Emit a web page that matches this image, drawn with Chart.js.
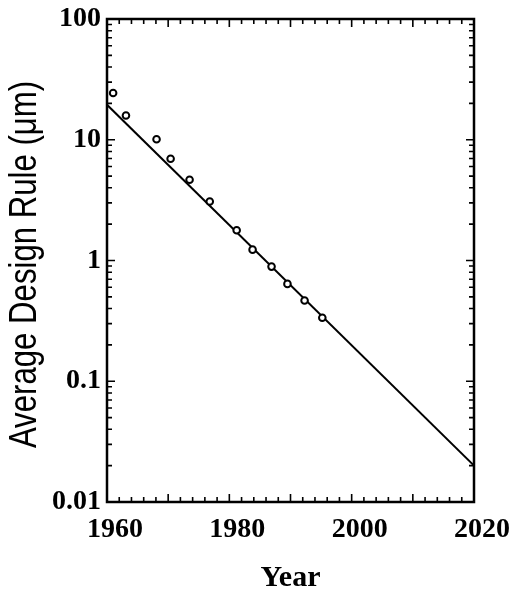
<!DOCTYPE html>
<html>
<head>
<meta charset="utf-8">
<script src="https://cdn.jsdelivr.net/npm/chart.js@4/dist/chart.umd.min.js"></script>
<style>
  html, body { margin: 0; padding: 0; background: #fff; }
  #wrap { width: 513px; height: 593px; }
</style>
</head>
<body>
<div id="wrap"><canvas id="myChart" width="513" height="593"></canvas></div>
<script>
// data
var years = [1961.0, 1963.1, 1968.1, 1970.4, 1973.5, 1976.8, 1981.2, 1983.8, 1986.9, 1989.5, 1992.3, 1995.2];
var designRule = [24.4, 15.9, 10.1, 6.97, 4.67, 3.08, 1.78, 1.23, 0.89, 0.64, 0.467, 0.336];
// fitted trend line
var fitYears = [1960, 2020];
var fitValues = [19.5, 0.02];
// tick labels
var xTicks = [1960, 1980, 2000, 2020];
var yTicks = [0.01, 0.1, 1, 10, 100];
var yTitle = 'Average Design Rule (μm)';

var pts = [];
for (var i = 0; i < years.length; i++) pts.push({x: years[i], y: designRule[i]});
var fit = [];
for (var j = 0; j < fitYears.length; j++) fit.push({x: fitYears[j], y: fitValues[j]});

// 프레임 + 안쪽 눈금 (네 변 모두)
var frameTicks = {
    id: 'frameTicks',
    afterDraw: function(chart) {
        var ctx = chart.ctx;
        var a = chart.chartArea;
        var xs = chart.scales.x, ys = chart.scales.y;
        ctx.save();
        ctx.strokeStyle = '#000';
        ctx.lineWidth = 1.6;
        ctx.beginPath();
        // x ticks: major 10, minor 2
        for (var yr = 1960; yr <= 2020; yr += 2) {
            var px = xs.getPixelForValue(yr);
            var len = (yr % 10 === 0) ? 8 : 5;
            ctx.moveTo(px, a.bottom); ctx.lineTo(px, a.bottom - len);
            ctx.moveTo(px, a.top); ctx.lineTo(px, a.top + len);
        }
        // y ticks: decades major, 2..9 minor
        for (var d = -2; d <= 1; d++) {
            for (var m = 1; m <= 10; m++) {
                var v = m * Math.pow(10, d);
                var py = ys.getPixelForValue(v);
                var l2 = (m === 1 || m === 10) ? 8 : 5;
                ctx.moveTo(a.left, py); ctx.lineTo(a.left + l2, py);
                ctx.moveTo(a.right, py); ctx.lineTo(a.right - l2, py);
            }
        }
        ctx.stroke();
        ctx.lineWidth = 2.5;
        ctx.strokeRect(a.left, a.top, a.right - a.left, a.bottom - a.top);

        // y축 제목 (narrow 폰트가 없어서 가로로 눌러서 그림)
        ctx.fillStyle = '#000';
        ctx.font = '38px "Liberation Sans", Arial, sans-serif';
        ctx.textAlign = 'center';
        ctx.textBaseline = 'alphabetic';
        ctx.translate(36, (a.top + a.bottom) / 2 + 4);
        ctx.rotate(-Math.PI / 2);
        ctx.scale(0.82, 1);
        ctx.fillText(yTitle, 0, 0);
        ctx.restore();
    }
};

var tickFont = { family: '"Liberation Serif", "Times New Roman", serif', size: 28, weight: 'bold' };
var yTickFont = { family: '"Liberation Serif", "Times New Roman", serif', size: 28, weight: 'bold', lineHeight: 0.9 };

new Chart(document.getElementById('myChart'), {
    type: 'scatter',
    data: {
        datasets: [
            {
                data: pts,
                showLine: false,
                pointRadius: 3.3,
                pointBorderWidth: 2,
                pointBorderColor: '#000',
                pointBackgroundColor: '#fff'
            },
            {
                data: fit,
                showLine: true,
                borderColor: '#000',
                borderWidth: 2,
                pointRadius: 0
            }
        ]
    },
    options: {
        responsive: false,
        animation: false,
        events: [],
        layout: { padding: { top: 19, right: 37, left: 0, bottom: 0 } },
        plugins: { legend: { display: false }, tooltip: { enabled: false } },
        scales: {
            x: {
                type: 'linear',
                min: 1960, max: 2020,
                afterBuildTicks: function(s) { s.ticks = xTicks.map(function(v) { return {value: v}; }); },
                afterFit: function(s) { s.height = 91; },
                grid: { display: false, drawTicks: false },
                border: { display: false },
                ticks: {
                    color: '#000', padding: 11, labelOffset: 8, autoSkip: false, maxRotation: 0,
                    font: tickFont,
                    callback: function(v) { return String(v); }
                },
                title: {
                    display: true, text: 'Year', color: '#000',
                    padding: { top: 0, bottom: -3 },
                    font: { family: '"Liberation Serif", "Times New Roman", serif', size: 30, weight: 'bold' }
                }
            },
            y: {
                type: 'logarithmic',
                min: 0.01, max: 100,
                afterBuildTicks: function(s) { s.ticks = yTicks.map(function(v) { return {value: v}; }); },
                afterFit: function(s) { s.width = 107; },
                grid: { display: false, drawTicks: false },
                border: { display: false },
                ticks: {
                    color: '#000', padding: 6, autoSkip: false,
                    font: yTickFont,
                    callback: function(v) { return String(v); }
                }
            }
        }
    },
    plugins: [frameTicks]
});
</script>
</body>
</html>
